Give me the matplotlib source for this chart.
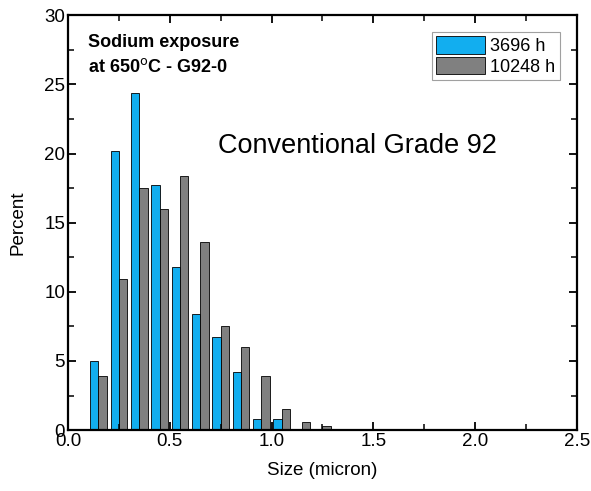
import matplotlib.pyplot as plt
from matplotlib.ticker import MultipleLocator

plt.rcParams['font.family'] = ['Liberation Sans', 'DejaVu Sans']

# bin centres (micron) and percent per bin for the two exposure times
bin_centres = [0.15, 0.25, 0.35, 0.45, 0.55, 0.65, 0.75, 0.85, 0.95, 1.05, 1.15, 1.25]
pct_3696 = [5.0, 20.2, 24.4, 17.7, 11.8, 8.4, 6.7, 4.2, 0.8, 0.8, 0.0, 0.0]
pct_10248 = [3.9, 10.9, 17.5, 16.0, 18.4, 13.6, 7.5, 6.0, 3.9, 1.5, 0.6, 0.3]
series_labels = ['3696 h', '10248 h']

bar_w = 0.041

fig = plt.figure(figsize=(5.91, 4.91), dpi=100)
ax = fig.add_axes([0.115, 0.124, 0.861, 0.845])

ax.bar([c - bar_w / 2 for c in bin_centres], pct_3696, width=bar_w,
       color='#12AEEF', edgecolor='black', linewidth=0.6, label=series_labels[0])
ax.bar([c + bar_w / 2 for c in bin_centres], pct_10248, width=bar_w,
       color='#808080', edgecolor='black', linewidth=0.6, label=series_labels[1])

ax.set_xlim(0, 2.5)
ax.set_ylim(0, 30)
ax.xaxis.set_major_locator(MultipleLocator(0.5))
ax.xaxis.set_minor_locator(MultipleLocator(0.25))
ax.yaxis.set_major_locator(MultipleLocator(5))
ax.yaxis.set_minor_locator(MultipleLocator(2.5))
ax.xaxis.set_major_formatter(lambda v, p: f'{v:.1f}')
ax.tick_params(which='both', direction='in', top=True, right=True, labelsize=13.5)
ax.tick_params(which='major', length=6, width=1.3, pad=2)
ax.tick_params(which='minor', length=4.5, width=1.1)
for s in ax.spines.values():
    s.set_linewidth(1.6)

ax.set_xlabel('Size (micron)', fontsize=13.5, labelpad=9)
ax.set_ylabel('Percent', fontsize=13.5, labelpad=13)

ax.text(0.039, 0.955, 'Sodium exposure\nat 650$^{\\mathrm{o}}$C - G92-0',
        transform=ax.transAxes, fontsize=13, fontweight='bold',
        va='top', ha='left', linespacing=1.5)
ax.text(0.295, 0.667, 'Conventional Grade 92', transform=ax.transAxes,
        fontsize=19.5, va='baseline', ha='left')

leg = ax.legend(loc='upper right', bbox_to_anchor=(0.967, 0.96), fontsize=13,
                frameon=True, fancybox=False, edgecolor='#888888',
                handlelength=2.7, handleheight=1.1, handletextpad=0.3,
                labelspacing=0.1, borderpad=0.25, borderaxespad=0.0)
leg.get_frame().set_linewidth(0.8)

fig.savefig('out.png', dpi=100)
